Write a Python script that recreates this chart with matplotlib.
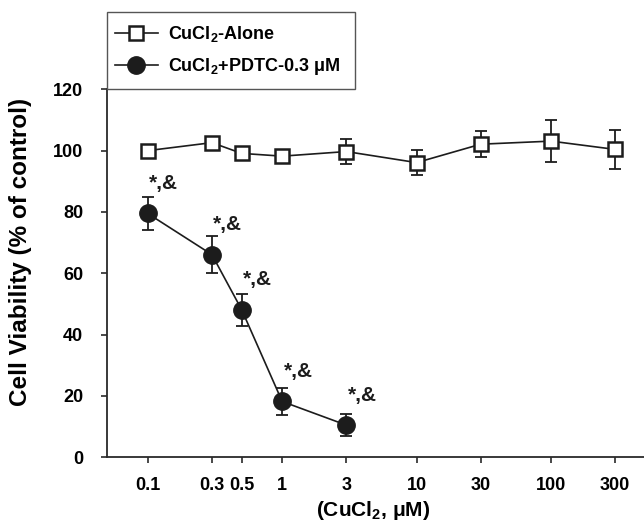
import matplotlib
matplotlib.use('Agg')

import matplotlib.pyplot as plt
from matplotlib.patches import Rectangle
from matplotlib.ticker import NullLocator, FixedLocator, FixedFormatter

plt.rcParams['font.family'] = ['Liberation Sans', 'DejaVu Sans']
plt.rcParams['font.weight'] = 'bold'
plt.rcParams['mathtext.fontset'] = 'custom'
plt.rcParams['mathtext.rm'] = 'Liberation Sans:bold'
plt.rcParams['mathtext.bf'] = 'Liberation Sans:bold'
plt.rcParams['mathtext.default'] = 'bf'

# data
conc = [0.1, 0.3, 0.5, 1, 3, 10, 30, 100, 300]
tick_labels = ['0.1', '0.3', '0.5', '1', '3', '10', '30', '100', '300']

alone = [100.0, 102.6, 99.1, 98.2, 99.7, 96.1, 102.1, 103.1, 100.4]
alone_err = [1.5, 1.5, 1.5, 1.5, 4.0, 4.2, 4.2, 6.8, 6.3]

pdtc_conc = [0.1, 0.3, 0.5, 1, 3]
pdtc = [79.5, 66.1, 48.1, 18.2, 10.5]
pdtc_err = [5.5, 6.0, 5.3, 4.4, 3.7]
pdtc_note = ['*,&', '*,&', '*,&', '*,&', '*,&']

W, H = 644, 528
fig = plt.figure(figsize=(W / 100, H / 100), dpi=100)
x0, x1, ytop, ybot = 107.3, 645.0, 89.3, 457.3
ax = fig.add_axes([x0 / W, (H - ybot) / H, (x1 - x0) / W, (ybot - ytop) / H])

ink = '#1c1c1c'

# error bars first, markers drawn over them
ax.errorbar(conc, alone, yerr=alone_err, fmt='none', ecolor=ink,
            elinewidth=1.3, capsize=4.5, capthick=1.3, zorder=2)
ax.errorbar(pdtc_conc, pdtc, yerr=pdtc_err, fmt='none', ecolor=ink,
            elinewidth=1.3, capsize=4.5, capthick=1.3, zorder=2)

l1, = ax.plot(conc, alone, color=ink, lw=1.2, marker='s', ms=10,
              mfc='white', mec=ink, mew=1.8, zorder=3,
              label=r'CuCl$_2$-Alone')
l2, = ax.plot(pdtc_conc, pdtc, color=ink, lw=1.2, marker='o', ms=12.5,
              mfc=ink, mec=ink, zorder=3,
              label=r'CuCl$_2$+PDTC-0.3 μM')

for xv, yv, t in zip(pdtc_conc, pdtc, pdtc_note):
    ax.annotate(t, (xv, yv), xytext=(16, 30), textcoords='offset pixels',
                ha='center', va='center', fontsize=15, fontweight='bold',
                color=ink)

ax.set_xscale('log')
ax.set_xlim(0.05, 500)
ax.set_ylim(0, 120)
ax.xaxis.set_major_locator(FixedLocator(conc))
ax.xaxis.set_major_formatter(FixedFormatter(tick_labels))
ax.xaxis.set_minor_locator(NullLocator())
ax.set_yticks([0, 20, 40, 60, 80, 100, 120])

ax.spines['top'].set_visible(False)
ax.spines['right'].set_visible(False)
for s in ('left', 'bottom'):
    ax.spines[s].set_linewidth(1.3)
    ax.spines[s].set_color('#2a2a2a')
ax.tick_params(axis='both', direction='out', length=4.3, width=1.2,
               color='#2a2a2a', labelsize=13)
ax.tick_params(axis='x', pad=10)
ax.tick_params(axis='y', pad=13)
for lab in ax.get_xticklabels() + ax.get_yticklabels():
    lab.set_fontweight('bold')

fig.text(21 / W, 1 - 252 / H, 'Cell Viability (% of control)', rotation=90,
         ha='center', va='center', fontsize=17.5, fontweight='bold')
fig.text(373.5 / W, 1 - 511 / H, r'(CuCl$_2$, μM)', ha='center',
         va='center', fontsize=15, fontweight='bold')

# legend box sitting on top of the plot area
bx0, bx1, by0, by1 = 107.3, 355.0, 12.0, 89.3
fig.add_artist(Rectangle((bx0 / W, 1 - by1 / H), (bx1 - bx0) / W,
                         (by1 - by0) / H, transform=fig.transFigure,
                         fill=False, edgecolor='#555555', lw=1.0))
fig.legend(handles=[l1, l2], loc='center left',
           bbox_to_anchor=(bx0 / W, 1 - by1 / H, (bx1 - bx0) / W, (by1 - by0) / H),
           frameon=False, handlelength=2.4, handletextpad=0.55,
           labelspacing=0.65, borderaxespad=0, borderpad=0.4,
           prop={'weight': 'bold', 'size': 13})

fig.savefig('out.png', dpi=100)
